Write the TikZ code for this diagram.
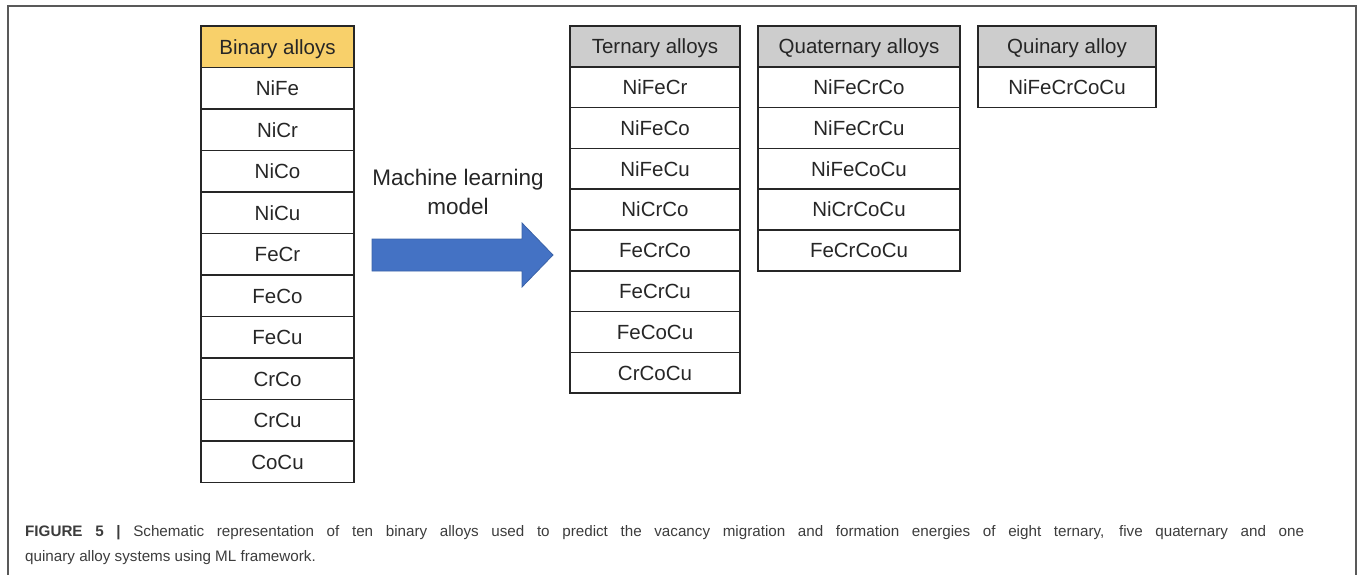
\documentclass[tikz,border=0pt]{standalone}
\usepackage{fontspec}
\setmainfont{Liberation Sans}
\usepackage{tikz}
\usetikzlibrary{positioning}

\definecolor{binyellow}{HTML}{F8D06A}
\definecolor{hdrgray}{HTML}{CDCDCD}
\definecolor{arrowblue}{HTML}{4472C4}
\definecolor{arrowedge}{HTML}{3A62A8}
\definecolor{captext}{HTML}{3C3C3C}

\begin{document}
\begin{tikzpicture}[x=1pt,y=1pt,
  cell/.style={draw=black!85, line width=1.6pt, outer sep=0pt, inner sep=0pt,
    minimum height=40.8pt, text height=14.7pt, text depth=0pt,
    font=\fontsize{20.5}{24}\selectfont, text=black!85},
  bincell/.style={cell, minimum width=153pt, minimum height=41.5pt},
  tercell/.style={cell, minimum width=170pt},
  quatcell/.style={cell, minimum width=202pt},
  quincell/.style={cell, minimum width=178pt},
  yhdr/.style={fill=binyellow},
  ghdr/.style={fill=hdrgray}]

  \useasboundingbox (0,0) rectangle (1358,-575);
  \draw[black!65, line width=1.2pt] (8,-6) rectangle (1356,-600);

  % binary column
  \node[bincell, yhdr, anchor=north west] (bin_h) at (201,-26) {Binary alloys};
  \node[bincell, below=0pt of bin_h] (bin_1) {NiFe};
  \node[bincell, below=0pt of bin_1] (bin_2) {NiCr};
  \node[bincell, below=0pt of bin_2] (bin_3) {NiCo};
  \node[bincell, below=0pt of bin_3] (bin_4) {NiCu};
  \node[bincell, below=0pt of bin_4] (bin_5) {FeCr};
  \node[bincell, below=0pt of bin_5] (bin_6) {FeCo};
  \node[bincell, below=0pt of bin_6] (bin_7) {FeCu};
  \node[bincell, below=0pt of bin_7] (bin_8) {CrCo};
  \node[bincell, below=0pt of bin_8] (bin_9) {CrCu};
  \node[bincell, below=0pt of bin_9] (bin_10) {CoCu};

  % ternary column
  \node[tercell, ghdr, anchor=north west] (ter_h) at (570,-26) {Ternary alloys};
  \node[tercell, below=0pt of ter_h] (ter_1) {NiFeCr};
  \node[tercell, below=0pt of ter_1] (ter_2) {NiFeCo};
  \node[tercell, below=0pt of ter_2] (ter_3) {NiFeCu};
  \node[tercell, below=0pt of ter_3] (ter_4) {NiCrCo};
  \node[tercell, below=0pt of ter_4] (ter_5) {FeCrCo};
  \node[tercell, below=0pt of ter_5] (ter_6) {FeCrCu};
  \node[tercell, below=0pt of ter_6] (ter_7) {FeCoCu};
  \node[tercell, below=0pt of ter_7] (ter_8) {CrCoCu};

  % quaternary column
  \node[quatcell, ghdr, anchor=north west] (quat_h) at (758,-26) {Quaternary alloys};
  \node[quatcell, below=0pt of quat_h] (quat_1) {NiFeCrCo};
  \node[quatcell, below=0pt of quat_1] (quat_2) {NiFeCrCu};
  \node[quatcell, below=0pt of quat_2] (quat_3) {NiFeCoCu};
  \node[quatcell, below=0pt of quat_3] (quat_4) {NiCrCoCu};
  \node[quatcell, below=0pt of quat_4] (quat_5) {FeCrCoCu};

  % quinary column
  \node[quincell, ghdr, anchor=north west] (quin_h) at (978,-26) {Quinary alloy};
  \node[quincell, below=0pt of quin_h] (quin_1) {NiFeCrCoCu};

  % ML step between the columns
  \node[align=center, font=\fontsize{22.5}{29}\selectfont, text=black!85] (ml_text) at (458,-192)
    {Machine learning\\model};
  \filldraw[fill=arrowblue, draw=arrowedge, line width=0.8pt]
    (372,-239) -- (522,-239) -- (522,-223) -- (553,-255) -- (522,-287)
    -- (522,-271) -- (372,-271) -- cycle;

  % caption
  \node[anchor=north west, inner sep=0pt, text width=1279pt, align=justify, text=captext,
    font=\fontsize{15.2}{25}\selectfont] (caption) at (25,-525)
    {\textbf{FIGURE 5 |} Schematic representation of ten binary alloys used to predict the vacancy migration and formation energies of eight ternary, five quaternary and one\linebreak
     quinary alloy systems using ML framework.};

\end{tikzpicture}
\end{document}
